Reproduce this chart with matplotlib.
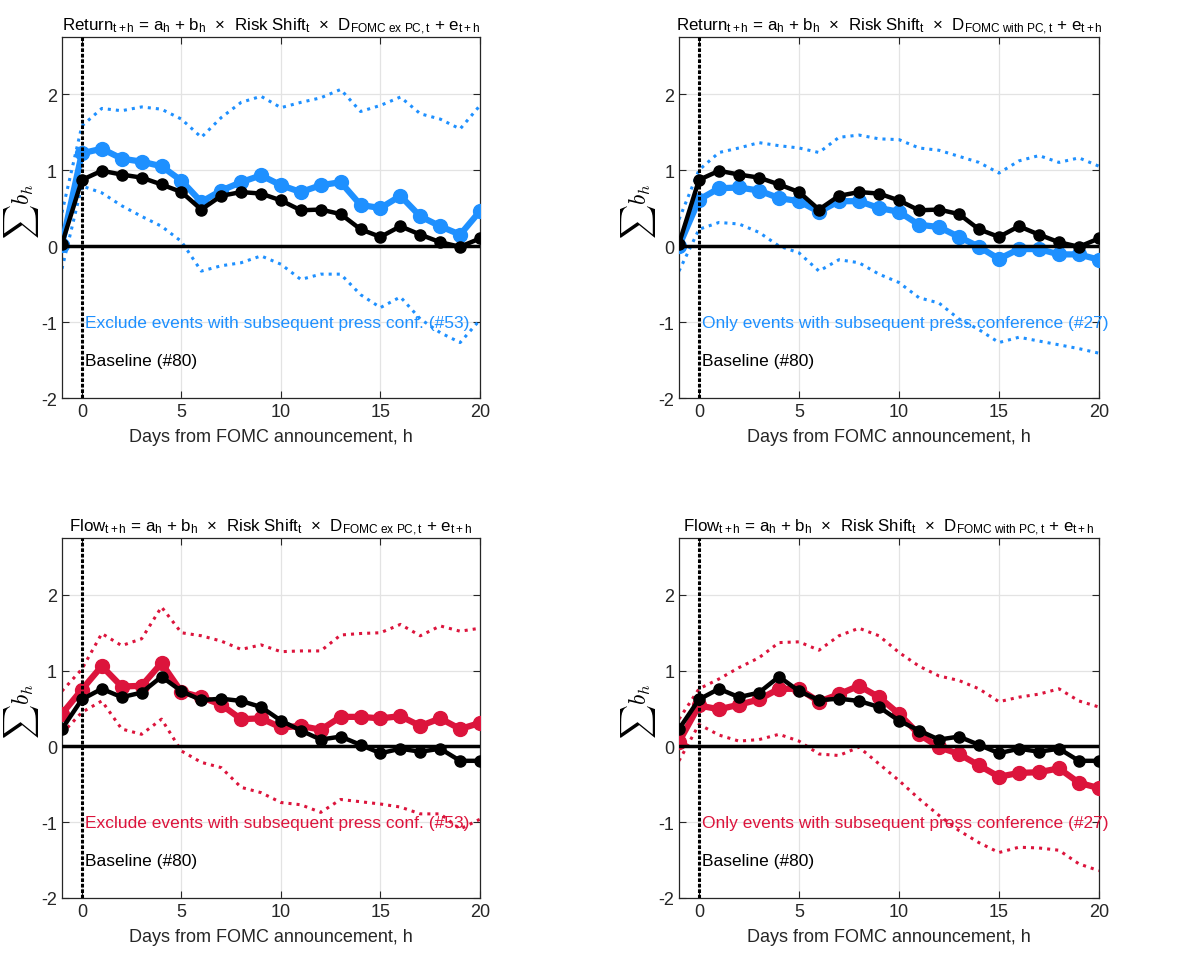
import numpy as np
import matplotlib
matplotlib.use("Agg")
import matplotlib.pyplot as plt

plt.rcParams["font.family"] = ["Liberation Sans", "DejaVu Sans"]
plt.rcParams["mathtext.fontset"] = "custom"
plt.rcParams["mathtext.rm"] = "Liberation Sans"
plt.rcParams["mathtext.it"] = "Liberation Sans:italic"
plt.rcParams["axes.unicode_minus"] = False

h = np.arange(-1, 21)

# baseline responses (#80)
ret_base = [0.03, 0.87, 0.99, 0.94, 0.90, 0.81, 0.71, 0.48, 0.66, 0.71, 0.69,
            0.60, 0.47, 0.48, 0.42, 0.22, 0.12, 0.26, 0.15, 0.05, -0.01, 0.10]
flow_base = [0.23, 0.62, 0.76, 0.65, 0.71, 0.92, 0.73, 0.61, 0.63, 0.60, 0.52,
             0.34, 0.21, 0.09, 0.13, 0.02, -0.09, -0.03, -0.07, -0.03, -0.19, -0.19]

# return, excluding events with press conference (#53)
ret_ex = [0.02, 1.22, 1.28, 1.15, 1.11, 1.05, 0.86, 0.58, 0.73, 0.84, 0.93,
          0.80, 0.71, 0.80, 0.84, 0.54, 0.50, 0.66, 0.39, 0.26, 0.15, 0.46]
ret_ex_hi = [0.44, 1.58, 1.81, 1.78, 1.83, 1.80, 1.67, 1.43, 1.69, 1.89, 1.97,
             1.82, 1.89, 1.95, 2.06, 1.77, 1.85, 1.96, 1.74, 1.67, 1.54, 1.85]
ret_ex_lo = [-0.30, 0.79, 0.70, 0.53, 0.39, 0.26, 0.06, -0.33, -0.26, -0.22, -0.13,
             -0.24, -0.44, -0.37, -0.37, -0.64, -0.81, -0.67, -0.96, -1.14, -1.27, -0.97]

# return, only events with press conference (#27)
ret_pc = [0.00, 0.61, 0.76, 0.77, 0.73, 0.63, 0.59, 0.45, 0.59, 0.59, 0.50,
          0.45, 0.28, 0.25, 0.12, -0.01, -0.17, -0.04, -0.04, -0.11, -0.11, -0.18]
ret_pc_hi = [0.35, 1.00, 1.23, 1.29, 1.36, 1.32, 1.29, 1.23, 1.43, 1.46, 1.41,
             1.40, 1.29, 1.26, 1.18, 1.10, 0.96, 1.12, 1.19, 1.10, 1.16, 1.05]
ret_pc_lo = [-0.33, 0.22, 0.31, 0.29, 0.18, 0.00, -0.09, -0.33, -0.18, -0.22, -0.37,
             -0.48, -0.68, -0.75, -0.96, -1.10, -1.27, -1.20, -1.25, -1.30, -1.35, -1.41]

# flow, excluding events with press conference (#53)
flow_ex = [0.43, 0.75, 1.06, 0.79, 0.80, 1.10, 0.72, 0.65, 0.55, 0.36, 0.37,
           0.25, 0.27, 0.22, 0.39, 0.39, 0.37, 0.40, 0.27, 0.37, 0.23, 0.31]
flow_ex_hi = [0.73, 1.02, 1.49, 1.33, 1.42, 1.84, 1.50, 1.46, 1.39, 1.28, 1.34,
              1.25, 1.26, 1.26, 1.47, 1.49, 1.50, 1.61, 1.46, 1.59, 1.52, 1.56]
flow_ex_lo = [0.17, 0.45, 0.60, 0.23, 0.16, 0.36, -0.06, -0.21, -0.28, -0.54, -0.61,
              -0.74, -0.77, -0.87, -0.70, -0.73, -0.76, -0.80, -0.89, -0.89, -1.09, -0.96]

# flow, only events with press conference (#27)
flow_pc = [0.06, 0.54, 0.49, 0.55, 0.62, 0.76, 0.76, 0.59, 0.69, 0.80, 0.65,
           0.43, 0.16, -0.01, -0.10, -0.25, -0.40, -0.35, -0.34, -0.29, -0.48, -0.55]
flow_pc_hi = [0.36, 0.76, 0.89, 1.04, 1.17, 1.37, 1.38, 1.27, 1.46, 1.56, 1.46,
              1.24, 1.06, 0.93, 0.87, 0.76, 0.59, 0.65, 0.69, 0.76, 0.60, 0.52]
flow_pc_lo = [-0.19, 0.29, 0.15, 0.07, 0.09, 0.16, 0.07, -0.10, -0.12, -0.01, -0.23,
              -0.45, -0.69, -0.91, -1.11, -1.27, -1.40, -1.33, -1.34, -1.37, -1.55, -1.64]

blue = "#1E90FF"
red = "#DC143C"
lbl_ex = "Exclude events with subsequent press conf. (#53)"
lbl_pc = "Only events with subsequent press conference (#27)"
base_lbl = "Baseline (#80)"


def title_text(dep, sample):
    s = sample.replace(" ", r"\ ")
    return (dep + r"$_{\mathrm{t+h}}$ = a$_{\mathrm{h}}$ + b$_{\mathrm{h}}$  $\times$  Risk Shift$_{\mathrm{t}}$"
            r"  $\times$  D$_{\mathrm{" + s + r"}}$ + e$_{\mathrm{t+h}}$")


panels = [
    ([0.0526, 0.5852, 0.3549, 0.3753], "Return", "FOMC ex PC,t", ret_ex, ret_ex_hi, ret_ex_lo, ret_base, blue, lbl_ex),
    ([0.5764, 0.5852, 0.3565, 0.3753], "Return", "FOMC with PC,t", ret_pc, ret_pc_hi, ret_pc_lo, ret_base, blue, lbl_pc),
    ([0.0526, 0.0655, 0.3549, 0.3742], "Flow", "FOMC ex PC,t", flow_ex, flow_ex_hi, flow_ex_lo, flow_base, red, lbl_ex),
    ([0.5764, 0.0655, 0.3565, 0.3742], "Flow", "FOMC with PC,t", flow_pc, flow_pc_hi, flow_pc_lo, flow_base, red, lbl_pc),
]

fig = plt.figure(figsize=(11.78, 9.62), dpi=100)

for pos, dep, sample, mid, hi, lo, base, col, lbl in panels:
    ax = fig.add_axes(pos)
    ax.plot(h, hi, ":", color=col, lw=2.2, zorder=2)
    ax.plot(h, lo, ":", color=col, lw=2.2, zorder=2)
    ax.plot(h, mid, "-o", color=col, lw=4.5, ms=10, zorder=3)
    ax.axhline(0, color="black", lw=2.5, zorder=4)
    ax.plot(h, base, "-o", color="black", lw=3.2, ms=8, zorder=5)
    ax.axvline(0, color="black", lw=2.2, ls=(0, (1.2, 0.6)), zorder=6)
    ax.text(0.15, -1.0, lbl, color=col, fontsize=12.5, va="center", ha="left", zorder=7)
    ax.text(0.15, -1.5, base_lbl, color="black", fontsize=12.5, va="center", ha="left", zorder=7)
    ax.set_xlim(-1, 20)
    ax.set_ylim(-2, 2.75)
    ax.set_xticks([0, 5, 10, 15, 20])
    ax.set_yticks([-2, -1, 0, 1, 2])
    ax.grid(True, color="#e3e3e3", lw=0.9)
    ax.set_axisbelow(True)
    ax.tick_params(direction="in", top=True, right=True, labelsize=13,
                   colors="#262626", length=5, width=0.8)
    for sp in ax.spines.values():
        sp.set_color("#262626")
        sp.set_linewidth(0.9)
    ax.set_xlabel("Days from FOMC announcement, h", fontsize=13, color="#262626", labelpad=6)
    ax.set_ylabel(r"$\sum b_h$", fontsize=17, math_fontfamily="cm")
    ax.yaxis.set_label_coords(-0.05, 0.52)
    ax.set_title(title_text(dep, sample), fontsize=12.2, pad=5)

fig.savefig("out.png", dpi=100)
